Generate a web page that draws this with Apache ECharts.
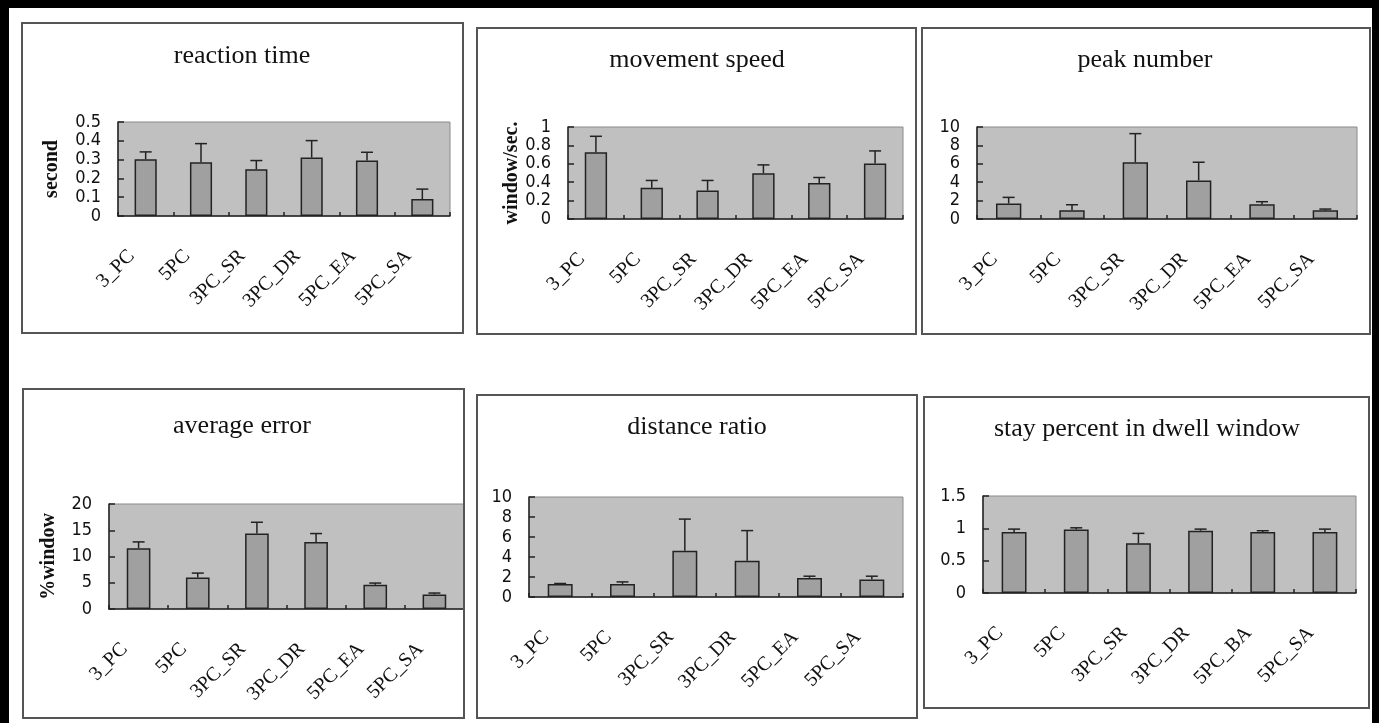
<!DOCTYPE html>
<html>
<head>
<meta charset="utf-8">
<script src="https://cdn.jsdelivr.net/npm/echarts@6/dist/echarts.min.js"></script>
<style>
html,body{margin:0;padding:0;background:#fff;}
#c{width:1379px;height:723px;}
</style>
</head>
<body>
<div id="c"></div>
<script>
// ---- data ----
const categories = ['3_PC', '5PC', '3PC_SR', '3PC_DR', '5PC_EA', '5PC_SA'];
const categoriesLast = ['3_PC', '5PC', '3PC_SR', '3PC_DR', '5PC_BA', '5PC_SA'];

const reactionMean = [0.302, 0.286, 0.249, 0.311, 0.295, 0.090];
const reactionErr  = [0.039, 0.099, 0.046, 0.090, 0.044, 0.053];

const speedMean = [0.726, 0.339, 0.310, 0.498, 0.390, 0.603];
const speedErr  = [0.173, 0.080, 0.109, 0.090, 0.061, 0.137];

const peakMean = [1.69, 0.94, 6.17, 4.19, 1.59, 0.94];
const peakErr  = [0.66, 0.61, 3.11, 1.98, 0.29, 0.14];

const avgErrMean = [11.58, 6.01, 14.37, 12.78, 4.62, 2.78];
const avgErrErr  = [1.20, 0.83, 2.15, 1.59, 0.32, 0.26];

const distMean = [1.31, 1.31, 4.63, 3.62, 1.91, 1.74];
const distErr  = [0.04, 0.20, 3.16, 3.02, 0.17, 0.34];

const stayMean = [0.942, 0.983, 0.768, 0.963, 0.942, 0.942];
const stayErr  = [0.046, 0.025, 0.154, 0.025, 0.021, 0.046];

const titles = ['reaction time', 'movement speed', 'peak number', 'average error', 'distance ratio', 'stay percent in dwell window'];
const yNames = ['second', 'window/sec.', '', '%window', '', ''];
const yMax = [0.5, 1, 10, 20, 10, 1.5];
const yInterval = [0.1, 0.2, 2, 5, 2, 0.5];

// ---- layout ----
const panels = [
  {grid:{left:118, top:122, width:332, height:94}, box:[22,23,463,333], title:[242,57], nameGap:56},
  {grid:{left:568, top:127, width:335, height:92}, box:[477,28,916,334], title:[697,61], nameGap:45},
  {grid:{left:977, top:127, width:380, height:92}, box:[922,28,1370,334], title:[1145,61], nameGap:45},
  {grid:{left:109, top:504, width:355, height:105}, box:[23,389,464,718], title:[242,427], nameGap:50},
  {grid:{left:529, top:497, width:374, height:100}, box:[477,395,917,718], title:[697,428], nameGap:45},
  {grid:{left:983, top:496, width:373, height:97}, box:[924,397,1369,708], title:[1147,430], nameGap:45}
];
const means = [reactionMean, speedMean, peakMean, avgErrMean, distMean, stayMean];
const errs = [reactionErr, speedErr, peakErr, avgErrErr, distErr, stayErr];
const cats = [categories, categories, categories, categories, categories, categoriesLast];

const serif = '"Liberation Serif", "Times New Roman", serif';
const narrow = '"Liberation Sans Narrow", "DejaVu Sans Condensed", "Liberation Sans", sans-serif';

const option = {
  backgroundColor: '#ffffff',
  animation: false,
  title: [], grid: [], xAxis: [], yAxis: [], series: [],
  graphic: []
};

// outer black frame
option.graphic.push({type:'rect', shape:{x:0, y:0, width:1379, height:8}, style:{fill:'#000'}, z:100});
option.graphic.push({type:'rect', shape:{x:0, y:0, width:9, height:723}, style:{fill:'#000'}, z:100});
option.graphic.push({type:'rect', shape:{x:1372, y:0, width:7, height:723}, style:{fill:'#000'}, z:100});

panels.forEach((p, i) => {
  const b = p.box;
  option.graphic.push({type:'rect', shape:{x:b[0], y:b[1], width:b[2]-b[0], height:b[3]-b[1]},
    style:{fill:'none', stroke:'#555', lineWidth:2}, z:50});
  option.title.push({
    text: titles[i], left: p.title[0], top: p.title[1] - 14, textAlign: 'center', padding: 0,
    textStyle: {fontFamily: serif, fontSize: 26, fontWeight: 'normal', color: '#111'}
  });
  option.grid.push(Object.assign({show:true, backgroundColor:'#c0c0c0', borderColor:'#8a8a8a', borderWidth:1}, p.grid));
  option.xAxis.push({
    type:'category', gridIndex:i, data: cats[i],
    axisLine:{show:true, lineStyle:{color:'#222', width:1.5}},
    axisTick:{show:true, inside:true, length:4, lineStyle:{color:'#222', width:1.5}},
    axisLabel:{rotate:45, margin:23, padding:[0,20,0,0], fontFamily: serif, fontSize:20, color:'#111', interval:0},
    splitLine:{show:false}
  });
  option.yAxis.push({
    type:'value', gridIndex:i, min:0, max:yMax[i], interval:yInterval[i],
    name: yNames[i], nameLocation:'middle', nameRotate:90, nameGap:p.nameGap,
    nameTextStyle:{fontFamily: serif, fontSize:20, fontWeight:'bold', color:'#111'},
    axisLine:{show:true, lineStyle:{color:'#222', width:1.5}},
    axisTick:{show:true, inside:true, length:6, lineStyle:{color:'#222', width:1.5}},
    axisLabel:{margin:17, fontFamily: narrow, fontSize:18, color:'#111'},
    splitLine:{show:false}
  });
  option.series.push({
    type:'bar', xAxisIndex:i, yAxisIndex:i, data: means[i], barWidth:'40%',
    itemStyle:{color:'#a0a0a0', borderColor:'#222', borderWidth:1.5}, z:2
  });
  option.series.push({
    type:'custom', xAxisIndex:i, yAxisIndex:i, z:3,
    data: means[i].map((m, k) => [k, m, errs[i][k]]),
    encode:{x:0, y:1},
    renderItem: function(params, api) {
      const base = api.coord([api.value(0), api.value(1)]);
      const top = api.coord([api.value(0), api.value(1) + api.value(2)]);
      const st = {stroke:'#222', lineWidth:1.5};
      return {type:'group', children:[
        {type:'line', shape:{x1:base[0], y1:base[1], x2:top[0], y2:top[1]}, style:st},
        {type:'line', shape:{x1:top[0]-6, y1:top[1], x2:top[0]+6, y2:top[1]}, style:st}
      ]};
    }
  });
});

const chart = echarts.init(document.getElementById('c'), null, {renderer:'canvas'});
chart.setOption(option);
</script>
</body>
</html>
